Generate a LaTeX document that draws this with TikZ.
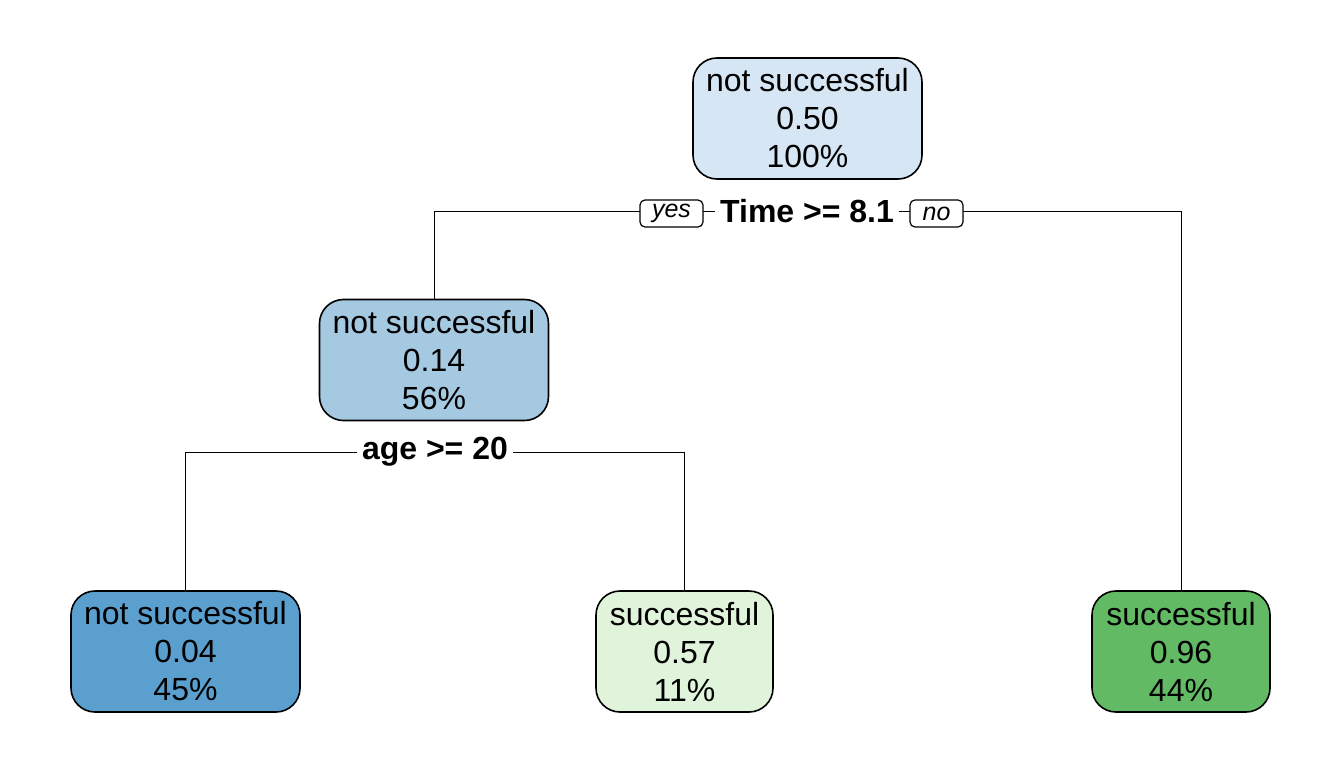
\documentclass[tikz,border=0pt]{standalone}
\usepackage{fontspec}
\setmainfont{Liberation Sans}
\usetikzlibrary{backgrounds}

\definecolor{blueA}{RGB}{214,230,244}
\definecolor{blueB}{RGB}{166,201,226}
\definecolor{blueC}{RGB}{90,159,206}
\definecolor{greenA}{RGB}{224,243,219}
\definecolor{greenB}{RGB}{99,186,100}

\begin{document}
\begin{tikzpicture}[x=0.5bp,y=-0.5bp]
    \useasboundingbox (0,0) rectangle (1344,768);

    \begin{scope}[every node/.style={draw,line width=0.8bp,rounded corners=12bp,
        align=center,minimum height=60.5bp,minimum width=114.5bp,
        font=\fontsize{16bp}{19bp}\selectfont}]
      \node[fill=blueA] (root) at (807.5,118.5) {not successful\\0.50\\100\%};
      \node[fill=blueB] (left) at (434,360) {not successful\\0.14\\56\%};
      \node[fill=blueC] (leafa) at (185.5,651.5) {not successful\\0.04\\45\%};
      \node[fill=greenA,minimum width=88.5bp] (leafb) at (684.5,651.5) {successful\\0.57\\11\%};
      \node[fill=greenB,minimum width=89bp] (right) at (1181,651.5) {successful\\0.96\\44\%};
    \end{scope}

    \begin{scope}[every node/.style={fill=white,inner sep=2.5bp,
        font=\fontsize{16bp}{19bp}\selectfont\bfseries}]
      \node (time) at (807,211) {Time >= 8.1};
      \node (age) at (435,452) {age >= 20};
    \end{scope}

    \begin{scope}[every node/.style={draw,fill=white,line width=0.6bp,rounded corners=2.5bp,
        minimum height=13.5bp,inner sep=0pt,font=\fontsize{12.5bp}{14bp}\selectfont\itshape}]
      \node[minimum width=31.5bp] (yes) at (671.5,213.5) {yes};
      \node[minimum width=26.5bp] (no) at (936.5,213.5) {no};
    \end{scope}

    \begin{scope}[on background layer,line width=0.8bp]
      \draw (left.north) |- (time) -| (right.north);
      \draw (leafa.north) |- (age) -| (leafb.north);
    \end{scope}
  \end{tikzpicture}
\end{document}
